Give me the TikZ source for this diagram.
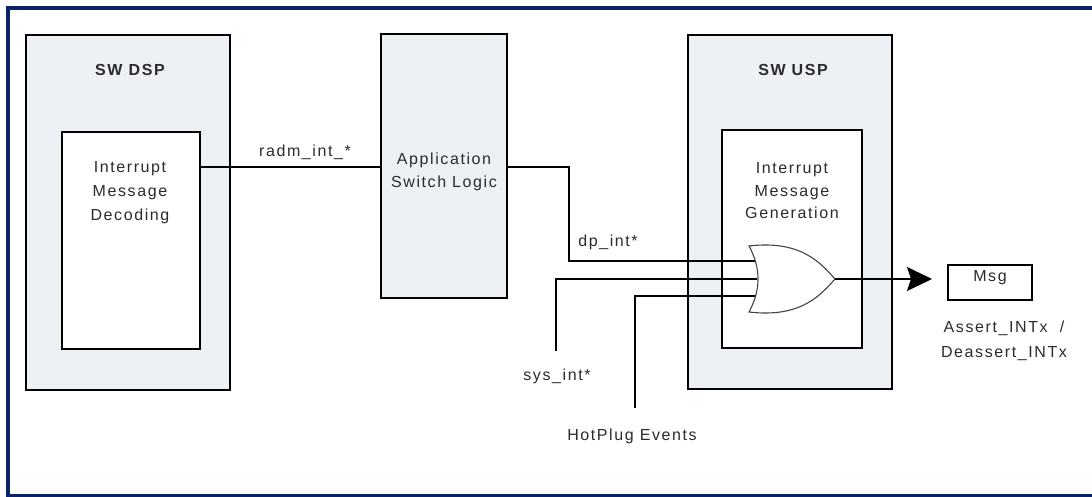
\documentclass[tikz,border=0pt]{standalone}
\usepackage{fontspec}
\setmainfont{Liberation Sans}[LetterSpace=10]
\usetikzlibrary{arrows.meta}
\definecolor{navy}{HTML}{0B2468}
\definecolor{boxfill}{HTML}{EDF0F5}
\definecolor{txtc}{HTML}{2B2B2B}
\definecolor{gatec}{HTML}{444444}
\begin{document}
\begin{tikzpicture}[x=1pt,y=-1pt]
\tikzset{
 blk/.style={draw=black, line width=2pt, inner sep=0pt},
 greybox/.style={blk, fill=boxfill},
 whitebox/.style={blk, fill=white},
 txt/.style={text=txtc, font=\fontsize{16}{24}\selectfont, align=center, inner sep=0pt},
 ttl/.style={txt, font=\fontsize{16}{24}\selectfont\bfseries},
 wire/.style={draw=black, line width=1.3pt},
}
\clip (0,0) rectangle (1092,497);
\draw[navy, line width=4pt] (8,8.5) rectangle (1120,495.5);

% SW DSP
\node[greybox, minimum width=204pt, minimum height=355pt] (dsp) at (128,212.5) {};
\node[whitebox, minimum width=138pt, minimum height=217pt] (dec) at (131,240.5) {};
\node[ttl] (dspt) at (130,70) {SW DSP};
\node[txt] (dect) at (130,193) {Interrupt\\Message\\Decoding};

% Application Switch Logic
\node[greybox, minimum width=126pt, minimum height=264pt] (asl) at (444,166) {};
\node[txt, font=\fontsize{16}{23}\selectfont] (aslt) at (444,172) {Application\\Switch Logic};

% SW USP
\node[greybox, minimum width=204pt, minimum height=354pt] (usp) at (790,212) {};
\node[whitebox, minimum width=140pt, minimum height=218pt] (gen) at (792,239) {};
\node[ttl] (uspt) at (793,70) {SW USP};
\node[txt, font=\fontsize{16}{22.5}\selectfont] (gent) at (792,191) {Interrupt\\Message\\Generation};

% Msg
\node[draw=black, line width=1.6pt, fill=white, minimum width=84pt, minimum height=35pt, inner sep=0pt] (msg) at (990,282.5) {};
\node[txt] (msgt) at (990,278) {Msg};
\node[txt, font=\fontsize{16}{25}\selectfont] (asrt) at (1004,341) {Assert\_INTx~~/\\Deassert\_INTx};

% labels
\node[txt] (radm) at (305,152) {radm\_int\_*};
\node[txt] (dpl) at (608,242) {dp\_int*};
\node[txt] (sysl) at (557,376) {sys\_int*};
\node[txt] (hpl) at (632,436) {HotPlug Events};

% coordinates
\coordinate (yrad) at (0,167);
\coordinate (dpk) at (569,261);
\coordinate (g1) at (757,261);
\coordinate (sysend) at (556,351);
\coordinate (g2) at (757,279);
\coordinate (hpend) at (635,408);
\coordinate (g3) at (757,296);
\coordinate (gout) at (835,279);
\coordinate (aend) at (932,279);

% wires
\draw[wire] (dec.east |- yrad) -- (asl.west |- yrad);
\draw[wire] (asl.east |- yrad) -| (dpk) -- (g1);
\draw[wire] (sysend) |- (g2);
\draw[wire] (hpend) |- (g3);

% OR gate
\filldraw[fill=white, draw=gatec, line width=1.1pt]
  (749,246) .. controls (800,240) and (820,262) .. (gout)
  .. controls (820,296) and (800,318) .. (749,312)
  .. controls (761,290) and (761,268) .. cycle;

\draw[wire, -{Stealth[length=25pt,width=24pt,inset=4pt]}] (gout) -- (aend);
\end{tikzpicture}
\end{document}
